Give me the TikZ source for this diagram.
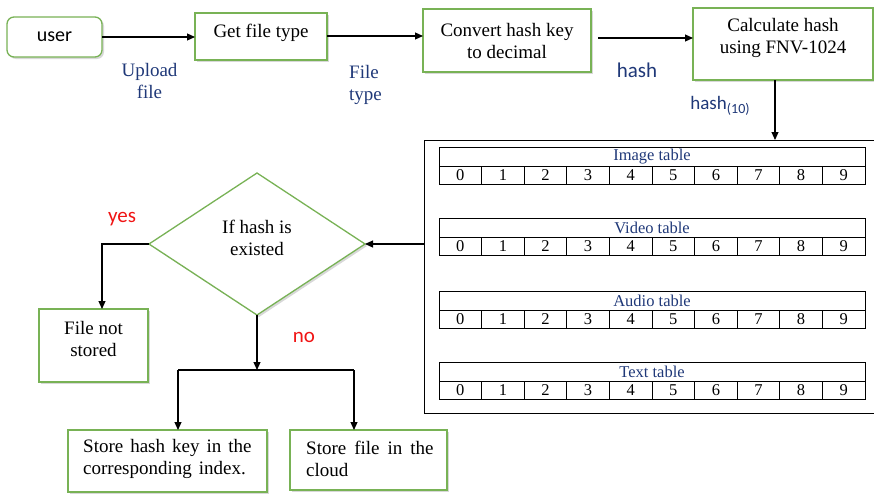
\documentclass[tikz,border=0pt]{standalone}
\usepackage{fontspec}
\setmainfont{Liberation Serif}
\newfontfamily\calib{Carlito}
\usetikzlibrary{arrows.meta,shapes.geometric,shadows,calc}
\definecolor{boxgreen}{RGB}{120,178,85}
\definecolor{lblblue}{RGB}{31,56,120}
\definecolor{noteRed}{RGB}{240,20,20}
\newcommand\widespace[1]{\spaceskip=#1\relax}
\begin{document}
\begin{tikzpicture}[x=1pt,y=-1pt,
  shade/.style={drop shadow={shadow xshift=2pt,shadow yshift=-2pt,opacity=0.22,fill=black!70}},
  gbox/.style={draw=boxgreen,line width=1.3pt,fill=white,rectangle,inner sep=0pt,outer sep=0pt,shade},
  txt/.style={font=\fontsize{19}{22}\selectfont,align=center,inner sep=0pt},
  ltxt/.style={align=left,inner sep=0pt,anchor=west},
  lbl/.style={font=\fontsize{19}{22}\selectfont,text=lblblue,align=center,inner sep=0pt},
  slbl/.style={font=\calib\fontsize{21}{24}\selectfont,inner sep=0pt},
  arr/.style={draw=black,line width=1.1pt,-{Triangle[length=8pt,width=7pt]}},
  ln/.style={draw=black,line width=1.1pt},
  ttl/.style={draw=black,line width=0.9pt,minimum width=426pt,minimum height=19pt,inner sep=0pt,
    font=\fontsize{16.5}{17}\selectfont,text=lblblue},
  cell/.style={draw=black,line width=0.9pt,minimum width=42.6pt,minimum height=18pt,inner sep=0pt,
    font=\fontsize{16.5}{17}\selectfont}
]
\useasboundingbox (0,0) rectangle (874,495);

% --- top row of the flow ---
\node[gbox,rounded corners=7pt,minimum width=95pt,minimum height=40pt] (user) at (54.5,37) {};
\node[font=\calib\fontsize{20}{24}\selectfont,inner sep=0pt] (usert) at (user.center) {user};

\node[gbox,minimum width=132pt,minimum height=47pt] (gft) at (261,36.5) {};
\node[txt] (gftt) at ([yshift=4pt]gft.center) {Get file type};

\node[gbox,minimum width=168pt,minimum height=63pt] (conv) at (507,40.5) {};
\node[txt] (convt) at ([yshift=-1pt]conv.center) {Convert hash key\\to decimal};

\node[gbox,minimum width=180pt,minimum height=72pt] (calc) at (783,44) {};
\node[txt] (calct) at ([yshift=6pt]calc.center) {Calculate hash\\using FNV-1024};

\draw[arr] (user.east) -- (user.east -| gft.west);
\draw[arr] ([yshift=0.5pt]gft.east) -- ([yshift=0.5pt]gft.east -| conv.west);
\draw[arr,shorten <=7pt] ([yshift=2.5pt]conv.east) -- ([yshift=2.5pt]conv.east -| calc.west);

\node[lbl] (upl) at (149.5,81) {Upload\\file};
\node[lbl,align=left,anchor=west] (ftyp) at (349,85) {File\\type};
\node[slbl,text=lblblue] (hsh) at (637,70) {hash};
\node[slbl,text=lblblue,font=\calib\fontsize{19}{22}\selectfont] (hsh10) at (720,106)
  {hash\raisebox{-4pt}{\fontsize{14}{14}\selectfont(10)}};

% --- hash tables ---
\node[draw=black,line width=1pt,minimum width=460pt,minimum height=273pt,anchor=north west,inner sep=0pt,outer sep=0pt]
  (tables) at (424,140) {};
\draw[arr] ([xshift=-8pt]calc.south) -- ([xshift=-8pt]calc.south |- tables.north);

\foreach \ty/\tn in {147/Image,218/Video,291/Audio,362/Text}{
  \node[ttl] (\tn-ttl) at (652,\ty+9.5) {\tn\ table};
  \foreach \i in {0,...,9}{
    \node[cell] (\tn-\i) at ({439+42.6*(\i+0.5)},\ty+28) {\i};
  }
}

% --- decision ---
\node[diamond,draw=boxgreen,line width=1.3pt,fill=white,inner sep=0pt,outer sep=0pt,
  minimum width=216pt,minimum height=142pt,shade] (diam) at (257,244) {};
\node[txt] (diamt) at ([yshift=6.5pt]diam.center) {If hash is\\existed};
\draw[arr] (diam.east -| tables.west) -- (diam.east);

\node[gbox,minimum width=109pt,minimum height=73pt] (nstore) at (93.5,345.5) {};
\node[txt] (nstoret) at ([yshift=7pt]nstore.center) {File not\\stored};
\draw[arr] (diam.west) -| ([xshift=8.5pt]nstore.north);

\node[slbl,text=noteRed] (yes) at (122,219) {yes};
\node[slbl,text=noteRed] (no) at (304,337) {no};

\coordinate (jm) at (257,370);
\coordinate (jl) at (178,370);
\coordinate (jr) at (354,370);
\draw[arr] (diam.south) -- (jm);
\draw[ln] (jl) -- (jr);

\node[gbox,minimum width=199pt,minimum height=62pt] (sh) at (167.5,461) {};
\node[ltxt,font=\fontsize{19}{22}\selectfont\widespace{7pt}] (sht) at (83,459) {Store hash key in the\\corresponding index.};
\node[gbox,minimum width=157pt,minimum height=60pt] (sf) at (368.5,460) {};
\node[ltxt,font=\fontsize{19}{22}\selectfont\widespace{8pt}] (sft) at (306,459) {Store file in the\\cloud};

\draw[arr] (jl) -- (jl |- sh.north);
\draw[arr] (jr) -- (jr |- sf.north);
\end{tikzpicture}
\end{document}
